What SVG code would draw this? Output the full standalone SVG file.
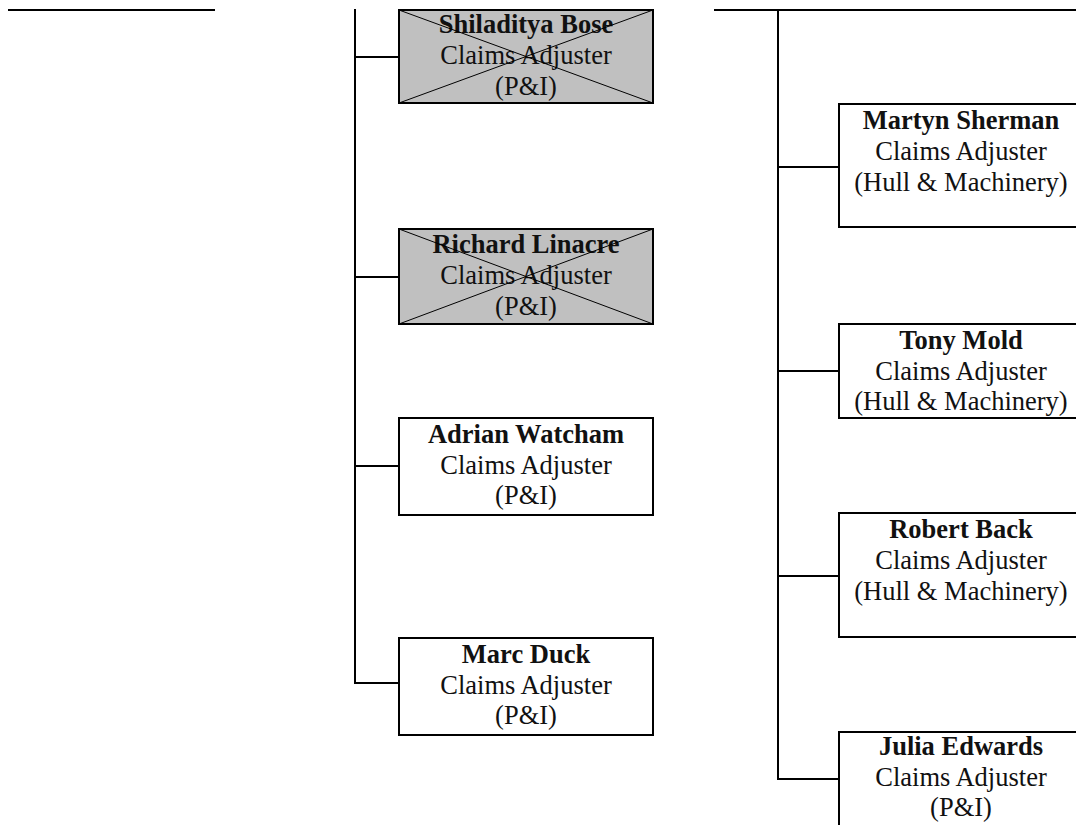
<svg xmlns="http://www.w3.org/2000/svg" width="1076" height="825" viewBox="0 0 1076 825">
  <style>
    .box { fill: #ffffff; stroke: #000000; stroke-width: 2; }
    .gone { fill: #c0c0c0; stroke: #000000; stroke-width: 2; }
    .cross { stroke: #000000; stroke-width: 1; fill: none; }
    .link { stroke: #000000; stroke-width: 2; fill: none; }
    text { font-family: "Liberation Serif", "Times New Roman", serif; font-size: 26.5px; fill: #111111; text-anchor: middle; }
    .name { font-weight: bold; }
  </style>

  <!-- connectors -->
  <g id="connectors">
    <line class="link" x1="8" y1="10" x2="215" y2="10"/>
    <line class="link" x1="714" y1="10" x2="1076" y2="10"/>
    <line class="link" x1="355" y1="9" x2="355" y2="684"/>
    <line class="link" x1="354" y1="57" x2="399" y2="57"/>
    <line class="link" x1="354" y1="277" x2="399" y2="277"/>
    <line class="link" x1="354" y1="466" x2="399" y2="466"/>
    <line class="link" x1="354" y1="683" x2="399" y2="683"/>
    <line class="link" x1="778" y1="10" x2="778" y2="780"/>
    <line class="link" x1="777" y1="167" x2="839" y2="167"/>
    <line class="link" x1="777" y1="371" x2="839" y2="371"/>
    <line class="link" x1="777" y1="576" x2="839" y2="576"/>
    <line class="link" x1="777" y1="779" x2="839" y2="779"/>
  </g>

  <!-- left column -->
  <g id="shiladitya-bose">
    <rect class="gone" x="399" y="10" width="254" height="93"/>
    <text x="526" y="33" class="name">Shiladitya Bose</text>
    <text x="526" y="64">Claims Adjuster</text>
    <text x="526" y="95">(P&amp;I)</text>
    <line class="cross" x1="399" y1="10" x2="653" y2="103"/>
    <line class="cross" x1="399" y1="103" x2="653" y2="10"/>
  </g>

  <g id="richard-linacre">
    <rect class="gone" x="399" y="229" width="254" height="95"/>
    <text x="526" y="253" class="name">Richard Linacre</text>
    <text x="526" y="284">Claims Adjuster</text>
    <text x="526" y="315">(P&amp;I)</text>
    <line class="cross" x1="399" y1="229" x2="653" y2="324"/>
    <line class="cross" x1="399" y1="324" x2="653" y2="229"/>
  </g>

  <g id="adrian-watcham">
    <rect class="box" x="399" y="418" width="254" height="97"/>
    <text x="526" y="443" class="name">Adrian Watcham</text>
    <text x="526" y="474">Claims Adjuster</text>
    <text x="526" y="504">(P&amp;I)</text>
  </g>

  <g id="marc-duck">
    <rect class="box" x="399" y="638" width="254" height="97"/>
    <text x="526" y="663" class="name">Marc Duck</text>
    <text x="526" y="694">Claims Adjuster</text>
    <text x="526" y="724">(P&amp;I)</text>
  </g>

  <!-- right column (boxes run past the right edge) -->
  <g id="martyn-sherman">
    <rect class="box" x="839" y="104" width="260" height="123"/>
    <text x="961" y="129" class="name">Martyn Sherman</text>
    <text x="961" y="160">Claims Adjuster</text>
    <text x="961" y="191">(Hull &amp; Machinery)</text>
  </g>

  <g id="tony-mold">
    <rect class="box" x="839" y="324" width="260" height="94"/>
    <text x="961" y="349" class="name">Tony Mold</text>
    <text x="961" y="380">Claims Adjuster</text>
    <text x="961" y="410">(Hull &amp; Machinery)</text>
  </g>

  <g id="robert-back">
    <rect class="box" x="839" y="513" width="260" height="124"/>
    <text x="961" y="538" class="name">Robert Back</text>
    <text x="961" y="569">Claims Adjuster</text>
    <text x="961" y="600">(Hull &amp; Machinery)</text>
  </g>

  <g id="julia-edwards">
    <rect class="box" x="839" y="732" width="260" height="120"/>
    <text x="961" y="755" class="name">Julia Edwards</text>
    <text x="961" y="786">Claims Adjuster</text>
    <text x="961" y="816">(P&amp;I)</text>
  </g>
</svg>
